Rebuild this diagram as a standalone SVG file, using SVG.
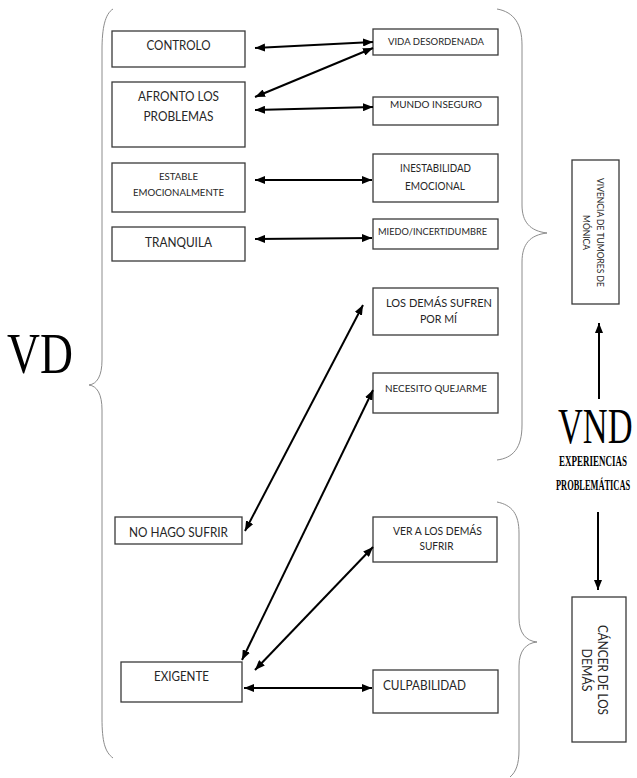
<svg xmlns="http://www.w3.org/2000/svg" width="637" height="778" viewBox="0 0 637 778">
<defs>
<style>
.box{fill:#fff;stroke:#3a3a3a;stroke-width:1.3}
.t{font-family:Lato,"Liberation Sans",sans-serif;fill:#262626;text-anchor:middle}
.conn{stroke:#000;stroke-width:2;fill:none}
.brace{stroke:#8c8c8c;stroke-width:1;fill:none}
.big{font-family:"Liberation Serif","Times New Roman",serif;fill:#000}
</style>
<marker id="ah" viewBox="0 0 10 8" refX="10" refY="4" markerWidth="10" markerHeight="8" markerUnits="userSpaceOnUse" orient="auto-start-reverse">
<path d="M0,0 L10,4 L0,8 Z" fill="#000"/>
</marker>
</defs>
<rect width="637" height="778" fill="#fff"/>

<g id="braces">
<path class="brace" d="M113,9 C105,14 102,28 102,50 L102,360 C102,376 97,384 89,385 C97,386 102,394 102,410 L102,718 C102,742 105,752 113,758"/>
<path class="brace" d="M497,9 C514,12 522,24 522,45 L522,205 C522,222 530,231 547,233 C530,235 522,244 522,262 L522,425 C522,448 513,458 497,460"/>
<path class="brace" d="M497,502 C512,505 519,514 519,533 L519,618 C519,633 526,641 537,642 C526,643 519,651 519,666 L519,750 C519,764 516,772 510,777"/>
</g>

<g id="labels">
<text class="big" transform="translate(7,373) scale(0.8,1)" font-size="57">VD</text>
<text class="big" transform="translate(558,443) scale(0.675,1)" font-size="51">VND</text>
<text class="big" transform="translate(559,466) scale(0.6,1)" font-size="15" font-weight="bold">EXPERIENCIAS</text>
<text class="big" transform="translate(556,490) scale(0.56,1)" font-size="15" font-weight="bold">PROBLEMÁTICAS</text>
</g>

<g id="n-controlo"><rect class="box" x="112" y="31" width="133" height="36"/><text class="t" x="178.5" y="50" font-size="13" textLength="64" lengthAdjust="spacingAndGlyphs">CONTROLO</text></g>
<g id="n-afronto"><rect class="box" x="112" y="82" width="133" height="65"/><text class="t" x="178.5" y="101" font-size="13" textLength="81" lengthAdjust="spacingAndGlyphs">AFRONTO LOS</text><text class="t" x="178.5" y="121" font-size="13" textLength="70" lengthAdjust="spacingAndGlyphs">PROBLEMAS</text></g>
<g id="n-estable"><rect class="box" x="112" y="163" width="133" height="49"/><text class="t" x="178.5" y="179.5" font-size="10.3" textLength="39" lengthAdjust="spacingAndGlyphs">ESTABLE</text><text class="t" x="178.5" y="196" font-size="10.3" textLength="91" lengthAdjust="spacingAndGlyphs">EMOCIONALMENTE</text></g>
<g id="n-tranquila"><rect class="box" x="112" y="227" width="133" height="34"/><text class="t" x="178.5" y="247" font-size="13" textLength="67" lengthAdjust="spacingAndGlyphs">TRANQUILA</text></g>

<g id="n-vida"><rect class="box" x="373" y="29" width="125" height="26"/><text class="t" x="436" y="45" font-size="10.3" textLength="96" lengthAdjust="spacingAndGlyphs">VIDA DESORDENADA</text></g>
<g id="n-mundo"><rect class="box" x="373" y="97" width="125" height="28"/><text class="t" x="436" y="107.5" font-size="10.2" textLength="92" lengthAdjust="spacingAndGlyphs">MUNDO INSEGURO</text></g>
<g id="n-inestabilidad"><rect class="box" x="373" y="154" width="125" height="48"/><text class="t" x="435.5" y="172" font-size="10.6" textLength="71" lengthAdjust="spacingAndGlyphs">INESTABILIDAD</text><text class="t" x="435" y="190" font-size="10.6" textLength="60" lengthAdjust="spacingAndGlyphs">EMOCIONAL</text></g>
<g id="n-miedo"><rect class="box" x="373" y="219" width="125" height="30"/><text class="t" x="432.5" y="235" font-size="10" textLength="109" lengthAdjust="spacingAndGlyphs">MIEDO/INCERTIDUMBRE</text></g>
<g id="n-losdemas"><rect class="box" x="373" y="288" width="125" height="47"/><text class="t" x="439" y="307" font-size="11.2" textLength="106" lengthAdjust="spacingAndGlyphs">LOS DEMÁS SUFREN</text><text class="t" x="438.5" y="323" font-size="11.2" textLength="37" lengthAdjust="spacingAndGlyphs">POR MÍ</text></g>
<g id="n-necesito"><rect class="box" x="373" y="373" width="125" height="40"/><text class="t" x="436" y="392" font-size="10.3" textLength="102" lengthAdjust="spacingAndGlyphs">NECESITO QUEJARME</text></g>

<g id="n-nohago"><rect class="box" x="115" y="517" width="127" height="27"/><text class="t" x="178.5" y="537" font-size="13" textLength="99" lengthAdjust="spacingAndGlyphs">NO HAGO SUFRIR</text></g>
<g id="n-exigente"><rect class="box" x="121" y="662" width="121" height="40"/><text class="t" x="181.5" y="681" font-size="13" textLength="55" lengthAdjust="spacingAndGlyphs">EXIGENTE</text></g>
<g id="n-ver"><rect class="box" x="373" y="517" width="124" height="45"/><text class="t" x="437.5" y="535" font-size="10.5" textLength="89" lengthAdjust="spacingAndGlyphs">VER A LOS DEMÁS</text><text class="t" x="436.5" y="550" font-size="10.5" textLength="34" lengthAdjust="spacingAndGlyphs">SUFRIR</text></g>
<g id="n-culpa"><rect class="box" x="373" y="670" width="125" height="43"/><text class="t" x="383" y="690" font-size="13" textLength="83" lengthAdjust="spacingAndGlyphs" style="text-anchor:start">CULPABILIDAD</text></g>

<g id="n-vivencia"><rect class="box" x="572" y="160" width="47" height="144"/>
<g transform="translate(597,232.5) rotate(90)"><text class="t" x="0" y="0" font-size="9.2" textLength="109" lengthAdjust="spacingAndGlyphs">VIVENCIA DE TUMORES DE</text><text class="t" x="0" y="14" font-size="9.2" textLength="35" lengthAdjust="spacingAndGlyphs">MÓNICA</text></g></g>
<g id="n-cancer"><rect class="box" x="572" y="597" width="54" height="145"/>
<g transform="translate(598,670) rotate(90)"><text class="t" x="0" y="0" font-size="13" textLength="90" lengthAdjust="spacingAndGlyphs">CÁNCER DE LOS</text><text class="t" x="0" y="16" font-size="13" textLength="43" lengthAdjust="spacingAndGlyphs">DEMÁS</text></g></g>

<g id="connectors">
<line class="conn" x1="255" y1="48" x2="373" y2="42" marker-start="url(#ah)" marker-end="url(#ah)"/>
<line class="conn" x1="255" y1="97" x2="373" y2="48" marker-start="url(#ah)" marker-end="url(#ah)"/>
<line class="conn" x1="255" y1="110" x2="373" y2="107" marker-start="url(#ah)" marker-end="url(#ah)"/>
<line class="conn" x1="255" y1="180" x2="372" y2="180" marker-start="url(#ah)" marker-end="url(#ah)"/>
<line class="conn" x1="255" y1="239" x2="372" y2="238" marker-start="url(#ah)" marker-end="url(#ah)"/>
<line class="conn" x1="245" y1="531" x2="363" y2="305" marker-start="url(#ah)" marker-end="url(#ah)"/>
<line class="conn" x1="242" y1="660" x2="373" y2="390" marker-start="url(#ah)" marker-end="url(#ah)"/>
<line class="conn" x1="255" y1="670" x2="373" y2="547" marker-start="url(#ah)" marker-end="url(#ah)"/>
<line class="conn" x1="244" y1="688" x2="372" y2="688" marker-start="url(#ah)" marker-end="url(#ah)"/>
<line class="conn" x1="599" y1="399" x2="599" y2="323" marker-end="url(#ah)"/>
<line class="conn" x1="598" y1="512" x2="598" y2="590" marker-end="url(#ah)"/>
</g>
</svg>
